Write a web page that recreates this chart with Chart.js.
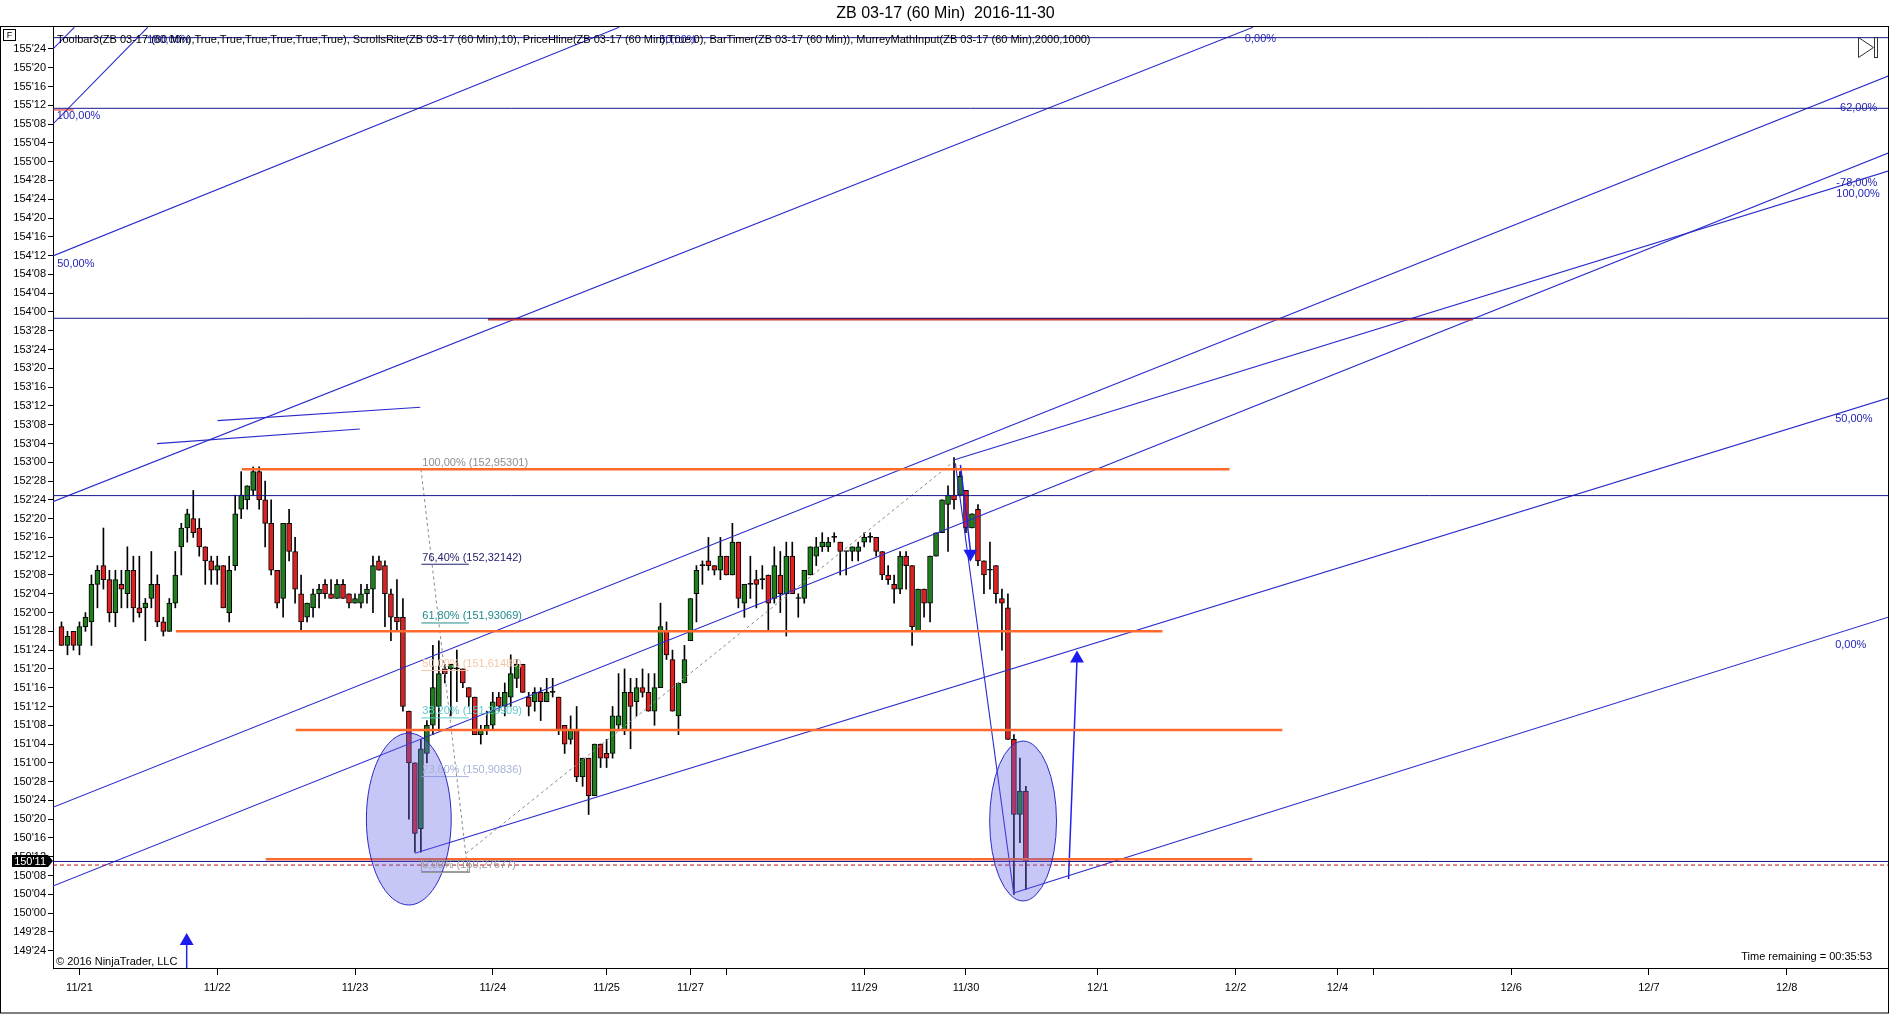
<!DOCTYPE html>
<html>
<head>
<meta charset="utf-8">
<title>ZB 03-17 (60 Min) 2016-11-30</title>
<script src="https://cdn.jsdelivr.net/npm/chart.js@4.4.0/dist/chart.umd.min.js"></script>
<style>
  html, body { margin: 0; padding: 0; background: #fff; }
  #chart { display: block; }
</style>
</head>
<body>
<canvas id="chart" width="1896" height="1014"></canvas>
<script>
// ZB 03-17, 60 minute bars, 11/21 - 11/30/2016
// Prices are kept in 32nds above 150'00 (bond quote style), one entry per bar
const open = [
    61, 57, 60, 57, 61, 62, 70, 74, 71, 64,
    70, 68, 73, 65, 65, 67, 70, 62, 60, 66,
    78, 82, 84, 82, 78, 75, 73, 74, 64, 74,
    86, 88, 90, 94, 88, 83, 73, 67, 83, 77,
    68, 63, 65, 68, 70, 68, 67, 70, 68, 66,
    66, 68, 69, 75, 74, 68, 63, 63, 43, 32,
    18, 34, 40, 44, 52, 52, 52, 52, 48, 46,
    38, 39, 40, 46, 44, 46, 50, 53, 46, 45,
    47, 45, 47, 46, 40, 37, 39, 29, 33, 25,
    36, 34, 34, 40, 39, 47, 45, 48, 47, 43,
    48, 60, 54, 42, 49, 58, 68, 74, 75, 74,
    73, 76, 72, 79, 66, 70, 71, 71, 72, 67,
    72, 68, 76, 67, 67, 72, 76, 78, 78, 80,
    79, 77, 77, 77, 79, 80, 80, 77, 72, 70,
    69, 76, 74, 60, 69, 66, 76, 81, 87, 89,
    89, 90, 82, 86, 75, 73, 74, 67, 65, 37,
    21, 26
];
const high = [
    62, 60, 60, 62, 64, 72, 74, 82, 73, 73,
    73, 78, 76, 76, 67, 77, 72, 63, 67, 77,
    83, 86, 90, 84, 78, 76, 76, 74, 76, 89,
    94, 91, 95, 95, 92, 88, 73, 83, 86, 80,
    72, 66, 69, 70, 71, 71, 71, 71, 68, 68,
    70, 70, 76, 76, 75, 69, 71, 67, 43, 32,
    37, 41, 57, 58, 53, 53, 56, 52, 48, 46,
    40, 43, 47, 47, 49, 55, 54, 53, 47, 48,
    48, 50, 50, 46, 40, 42, 44, 33, 33, 36,
    36, 37, 44, 51, 52, 50, 50, 52, 51, 51,
    66, 62, 56, 49, 57, 67, 74, 75, 80, 74,
    80, 76, 83, 79, 70, 76, 73, 74, 72, 78,
    77, 79, 79, 68, 73, 78, 80, 81, 80, 81,
    79, 77, 78, 79, 81, 81, 80, 77, 74, 72,
    77, 77, 74, 69, 69, 76, 81, 88, 91, 97,
    94, 90, 85, 87, 75, 79, 74, 69, 68, 38,
    33, 27
];
const low = [
    57, 55, 56, 55, 60, 57, 65, 69, 62, 61,
    65, 65, 62, 63, 58, 65, 61, 59, 60, 65,
    72, 79, 80, 76, 70, 70, 70, 65, 62, 73,
    84, 86, 89, 86, 78, 72, 65, 63, 75, 66,
    60, 62, 63, 65, 67, 67, 67, 67, 65, 66,
    65, 66, 64, 73, 61, 58, 60, 43, 20, 13,
    13, 32, 38, 39, 49, 42, 45, 48, 44, 38,
    36, 38, 39, 43, 42, 44, 48, 47, 42, 43,
    41, 45, 46, 38, 34, 36, 28, 27, 21, 25,
    31, 31, 33, 39, 38, 35, 42, 46, 43, 40,
    48, 54, 43, 38, 49, 58, 62, 70, 73, 72,
    71, 72, 72, 65, 63, 67, 65, 69, 60, 66,
    64, 59, 68, 63, 66, 72, 74, 77, 77, 79,
    72, 72, 75, 75, 78, 79, 76, 71, 70, 66,
    68, 69, 57, 60, 63, 62, 76, 81, 77, 86,
    89, 81, 82, 74, 68, 69, 66, 56, 37, 4,
    15, 5
];
const close = [
    57, 59, 57, 61, 63, 70, 73, 71, 64, 71,
    69, 73, 65, 64, 66, 70, 62, 60, 66, 72,
    82, 85, 81, 78, 75, 73, 74, 65, 73, 85,
    89, 91, 94, 88, 83, 73, 66, 83, 77, 69,
    62, 66, 68, 69, 68, 67, 70, 67, 66, 67,
    68, 69, 74, 73, 68, 63, 62, 44, 32, 17,
    35, 40, 48, 51, 51, 53, 52, 49, 46, 38,
    39, 40, 45, 44, 47, 51, 53, 47, 44, 47,
    45, 47, 47, 39, 36, 39, 29, 33, 25, 36,
    33, 33, 42, 42, 47, 44, 48, 47, 43, 48,
    61, 55, 43, 49, 54, 67, 73, 74, 74, 73,
    76, 72, 79, 67, 70, 70, 70, 71, 66, 74,
    68, 76, 68, 67, 73, 78, 78, 79, 79, 80,
    77, 77, 78, 78, 80, 80, 77, 72, 71, 69,
    76, 74, 61, 69, 66, 76, 81, 88, 89, 88,
    93, 82, 85, 75, 72, 73, 68, 66, 37, 21,
    26, 11
];

// date labels sit on bar numbers (bar 0 = first bar on the chart)
const dateTickBars = [3, 26, 49, 72, 91, 105, 111, 134, 151, 173, 196, 213, 219, 242, 265, 288];
const dateTickLabels = ['11/21', '11/22', '11/23', '11/24', '11/25', '11/27', '', '11/29', '11/30',
                        '12/1', '12/2', '12/4', '', '12/6', '12/7', '12/8'];

const lastPrice = 150.34375;     // 150'11
const priorLine = 150.32;        // red dashed line

// full width blue horizontal lines
const hLinePrices = [155.825, 155.355, 153.958, 152.778, lastPrice];

// orange support / resistance rays
const orangePrices = [152.95301, 151.875, 151.219, 150.359];
const orangeFrom = [30.1, 19.1, 39.1, 34.1];
const orangeTo = [195.0, 183.8, 203.8, 198.8];
const redLevel = { price: 153.951, from: 71.2, to: 235.6 };

// trend / pitchfork lines: [bar1, price1, bar2, price2]
const trendLines = [
    [-1.42, 154.373, 93.1, 155.894],
    [-1.42, 155.251, 14.4, 155.894],
    [-1.42, 155.750, 2.15, 155.894],
    [15.95, 153.124, 49.8, 153.221],
    [26.05, 153.277, 59.9, 153.366],
    [-1.42, 152.738, 198.9, 155.894],
    [-1.42, 150.704, 305, 155.570],
    [-1.42, 150.180, 305, 155.058],
    [59.0, 150.398, 305, 153.428],
    [158.95, 150.134, 305, 151.970],
    [148.95, 153.015, 305, 154.938],
    [149.23, 152.993, 158.95, 150.134]
];

// arrows: shaft from (bar, price) to (bar, price), head at the end
const arrowShafts = [
    [150.07, 152.982, 151.73, 152.416],
    [168.12, 150.227, 169.53, 151.684],
    [20.9, 149.635, 20.9, 149.795]
];
const arrowHeads = [
    { x: 151.73, y: 152.391, down: true },
    { x: 169.53, y: 151.694, down: false },
    { x: 20.9, y: 149.815, down: false }
];

// ellipses: centre bar, centre price, half width (bars), half height (price)
const ellipses = [
    [57.98, 150.626, 7.08, 0.572],
    [160.53, 150.613, 5.58, 0.532]
];

// fibonacci retracement
const fibPct = ['100,00%', '76,40%', '61,80%', '50,00%', '38,20%', '23,60%', '0,00%'];
const fibPrice = [152.95301, 152.32142, 151.93069, 151.61489, 151.29909, 150.90836, 150.27677];
const fibColors = ['#8e8e8e', '#22226e', '#1f8a8a', '#f3c6a6', '#5ccaca', '#a7b3d7', '#9a9a9a'];
const fibFrom = 60.07, fibTo = 68.0;

// channel percentage labels
const pctText = ['100,00%', '50,00%', '0,00%', '-62,00%', '-78,00%', '100,00%', '50,00%', '0,00%', '100,00%', '50,00%'];
const pctBar = [-0.77, -0.72, 197.55, 296.3, 296.3, 296.3, 296.1, 296.1, 14.3, 99.8];
const pctPrice = [155.304, 154.319, 155.815, 155.355, 154.86, 154.785, 153.288, 151.787, 155.812, 155.812];

const FONT = "'Liberation Sans', Arial, sans-serif";
const BLUE = '#2424b4';
const LINE_BLUE = '#2a2acc';

const toPrice = t => 150 + t / 32;
const fmt32 = v => {
    const whole = Math.floor(v + 1e-9);
    const n = Math.round((v - whole) * 32);
    return whole + "'" + String(n).padStart(2, '0');
};

const xMin = -1.4167, xMax = 304.92;
const yMin = 149.635, yMax = 155.896;

function seg(x1, y1, x2, y2, color, width, dash) {
    return {
        type: 'line',
        data: [{ x: x1, y: y1 }, { x: x2, y: y2 }],
        borderColor: color,
        borderWidth: width,
        borderDash: dash || [],
        pointRadius: 0,
        tension: 0,
        order: 1
    };
}

const datasets = [];

// candles: wick and body as floating bars
datasets.push({
    label: 'wick',
    data: open.map((_, i) => ({ x: i, y: [toPrice(low[i]), toPrice(high[i])] })),
    backgroundColor: '#000',
    borderWidth: 0,
    barThickness: 1,
    grouped: false,
    order: 6
});
datasets.push({
    label: 'body',
    data: open.map((_, i) => ({ x: i, y: [toPrice(open[i]), toPrice(close[i])] })),
    backgroundColor: ctx => {
        const i = ctx.dataIndex;
        if (close[i] > open[i]) return '#1f7f1f';
        if (close[i] < open[i]) return '#dd2020';
        return '#000';
    },
    borderColor: '#000',
    borderWidth: 1,
    borderSkipped: false,
    barThickness: 5,
    minBarLength: 1,
    grouped: false,
    order: 5
});

hLinePrices.forEach(p => datasets.push(seg(xMin, p, xMax, p, '#16168e', 1)));
datasets.push(seg(xMin, priorLine, xMax, priorLine, '#c01010', 1, [4, 3]));
datasets.push(seg(xMin, 155.344, 2.0, 155.344, '#e02020', 1));

orangePrices.forEach((p, i) => datasets.push(seg(orangeFrom[i], p, orangeTo[i], p, '#ff6a2c', 2.5)));
datasets.push(seg(redLevel.from, redLevel.price, redLevel.to, redLevel.price, '#c8362c', 2.5));

trendLines.forEach(l => datasets.push(seg(l[0], l[1], l[2], l[3], LINE_BLUE, 1.1)));

// fib anchor lines
datasets.push(seg(60.02, fibPrice[0], 67.83, fibPrice[6], '#8a8a8a', 1, [3, 3]));
datasets.push(seg(67.57, 150.398, 148.95, 153.004, '#8a8a8a', 1, [3, 3]));
fibPrice.forEach((p, i) => datasets.push(seg(fibFrom, p, fibTo, p, fibColors[i], 1)));

arrowShafts.forEach(a => datasets.push(seg(a[0], a[1], a[2], a[3], '#2222ee', 1.5)));
datasets.push({
    type: 'scatter',
    data: arrowHeads.map(h => ({ x: h.x, y: h.y })),
    pointStyle: 'triangle',
    rotation: arrowHeads.map(h => (h.down ? 180 : 0)),
    pointRadius: 8,
    backgroundColor: '#1c1cf0',
    borderWidth: 0,
    order: 0
});

const drawings = {
    id: 'drawings',
    afterDatasetsDraw(chart) {
        const { ctx, chartArea: area, scales: { x, y } } = chart;
        ctx.save();
        ctx.beginPath();
        ctx.rect(area.left, area.top, area.right - area.left, area.bottom - area.top);
        ctx.clip();

        // highlight ellipses
        ellipses.forEach(e => {
            const cx = x.getPixelForValue(e[0]);
            const cy = y.getPixelForValue(e[1]);
            const rx = x.getPixelForValue(e[0] + e[2]) - cx;
            const ry = cy - y.getPixelForValue(e[1] + e[3]);
            ctx.beginPath();
            ctx.ellipse(cx, cy, rx, ry, 0, 0, Math.PI * 2);
            ctx.fillStyle = 'rgba(100, 100, 232, 0.36)';
            ctx.fill();
            ctx.lineWidth = 1;
            ctx.strokeStyle = '#2a2ac4';
            ctx.stroke();
        });

        // fib level texts
        ctx.font = '11px ' + FONT;
        ctx.textAlign = 'left';
        ctx.textBaseline = 'bottom';
        fibPrice.forEach((p, i) => {
            ctx.fillStyle = fibColors[i];
            const txt = fibPct[i] + ' (' + p.toFixed(5).replace('.', ',') + ')';
            ctx.fillText(txt, x.getPixelForValue(fibFrom) + 1, y.getPixelForValue(p) - 1);
        });
        // small box at the 0% anchor
        const bx1 = x.getPixelForValue(fibFrom), bx2 = x.getPixelForValue(fibTo);
        const by1 = y.getPixelForValue(150.355), by2 = y.getPixelForValue(fibPrice[6]);
        ctx.strokeStyle = '#9a9a9a';
        ctx.strokeRect(Math.round(bx1) + 0.5, Math.round(by1) + 0.5, Math.round(bx2 - bx1), Math.round(by2 - by1));

        // channel percentage labels
        ctx.textBaseline = 'middle';
        ctx.fillStyle = BLUE;
        pctText.forEach((t, i) => {
            ctx.fillText(t, x.getPixelForValue(pctBar[i]), y.getPixelForValue(pctPrice[i]));
        });
        ctx.restore();
    },
    afterDraw(chart) {
        const { ctx, chartArea: area, scales: { y } } = chart;
        ctx.save();
        // outer frame and right / top border of the price panel
        ctx.strokeStyle = '#000';
        ctx.lineWidth = 1;
        ctx.strokeRect(0.5, Math.round(area.top) - 0.5, Math.round(area.right), 1013 - Math.round(area.top) + 0.5);

        ctx.font = '11px ' + FONT;
        ctx.fillStyle = '#000';
        ctx.textBaseline = 'middle';
        ctx.textAlign = 'left';
        ctx.fillText('Toolbar3(ZB 03-17 (60 Min),True,True,True,True,True,True), ScrollsRite(ZB 03-17 (60 Min),10), ' +
            'PriceHline(ZB 03-17 (60 Min),True,0), BarTimer(ZB 03-17 (60 Min)), MurreyMathInput(ZB 03-17 (60 Min),2000,1000)',
            area.left + 4, area.top + 13);
        ctx.fillText('\u00a9 2016 NinjaTrader, LLC', area.left + 3, area.bottom - 6);
        ctx.textAlign = 'right';
        ctx.fillText('Time remaining = 00:35:53', area.right - 16, area.bottom - 11);

        // "F" box
        ctx.strokeRect(3.5, area.top + 2.5, 12, 11);
        ctx.textAlign = 'center';
        ctx.font = '9px ' + FONT;
        ctx.fillText('F', 9.5, area.top + 8.5);

        // scroll-to-end icon
        const ix = area.right - 30, iy = area.top + 10;
        ctx.strokeStyle = '#333';
        ctx.beginPath();
        ctx.moveTo(ix + 0.5, iy + 0.5);
        ctx.lineTo(ix + 15.5, iy + 10.5);
        ctx.lineTo(ix + 0.5, iy + 20.5);
        ctx.closePath();
        ctx.stroke();
        ctx.strokeRect(ix + 16.5, iy + 0.5, 3, 20);

        // last price marker on the axis
        const py = Math.round(y.getPixelForValue(lastPrice));
        ctx.fillStyle = '#000';
        ctx.beginPath();
        ctx.moveTo(12, py - 6);
        ctx.lineTo(48, py - 6);
        ctx.lineTo(53, py);
        ctx.lineTo(48, py + 6);
        ctx.lineTo(12, py + 6);
        ctx.closePath();
        ctx.fill();
        ctx.fillStyle = '#fff';
        ctx.font = '11px ' + FONT;
        ctx.textAlign = 'right';
        ctx.fillText(fmt32(lastPrice), 46, py + 0.5);
        ctx.restore();
    }
};

new Chart(document.getElementById('chart').getContext('2d'), {
    type: 'bar',
    data: { datasets: datasets },
    options: {
        responsive: false,
        animation: false,
        devicePixelRatio: 1,
        layout: { padding: { left: 0, right: 5, top: 0, bottom: 0 } },
        plugins: {
            legend: { display: false },
            tooltip: { enabled: false },
            title: {
                display: true,
                text: 'ZB 03-17 (60 Min)  2016-11-30',
                color: '#000',
                font: { family: FONT, size: 16, weight: 'normal' },
                padding: { top: 3.6, bottom: 4.2 }
            }
        },
        scales: {
            x: {
                type: 'linear',
                min: xMin,
                max: xMax,
                offset: false,
                grid: { display: true, offset: false, drawOnChartArea: false, drawTicks: true, tickLength: 7, color: '#000' },
                border: { display: true, color: '#000' },
                ticks: {
                    autoSkip: false,
                    maxRotation: 0,
                    padding: 6,
                    color: '#000',
                    font: { family: FONT, size: 11 },
                    callback: (value, index) => dateTickLabels[index]
                },
                afterBuildTicks: scale => {
                    scale.ticks = dateTickBars.map(v => ({ value: v }));
                },
                afterFit: scale => { scale.height = 46; }
            },
            y: {
                type: 'linear',
                position: 'left',
                min: yMin,
                max: yMax,
                grid: { display: true, drawOnChartArea: false, drawTicks: true, tickLength: 5, color: '#000' },
                border: { display: true, color: '#000' },
                ticks: {
                    padding: 2,
                    color: '#000',
                    font: { family: FONT, size: 11 },
                    callback: value => fmt32(value)
                },
                afterBuildTicks: scale => {
                    const t = [];
                    for (let k = 0; k <= 48; k++) t.push({ value: 149.75 + k * 0.125 });
                    scale.ticks = t;
                },
                afterFit: scale => { scale.width = 53; }
            }
        }
    },
    plugins: [drawings]
});
</script>
</body>
</html>
